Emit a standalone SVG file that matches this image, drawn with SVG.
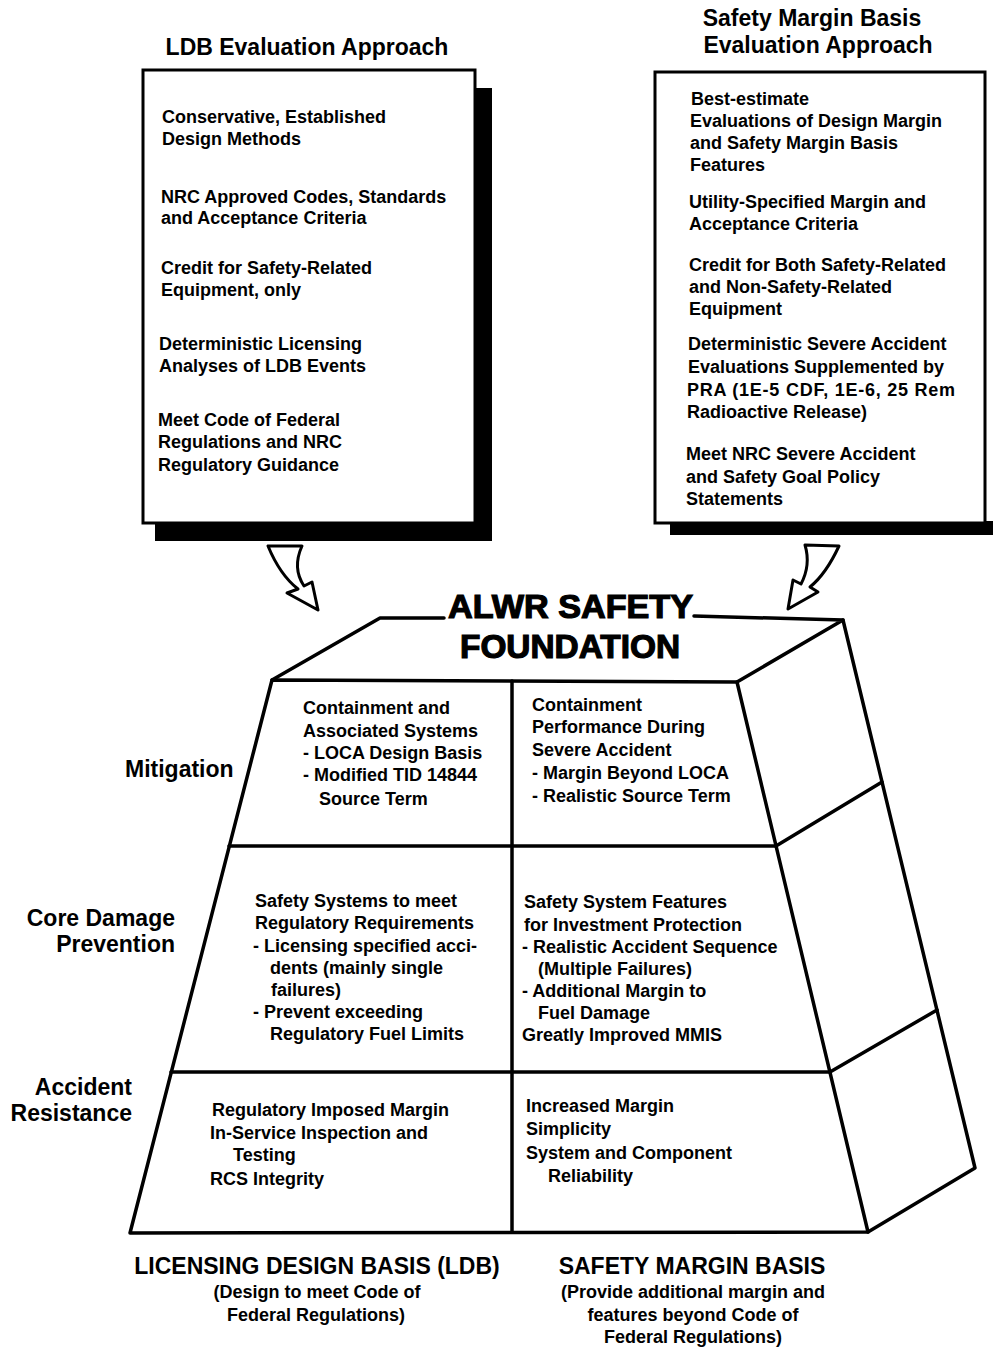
<svg xmlns="http://www.w3.org/2000/svg" width="993" height="1348" viewBox="0 0 993 1348">
  <style>
    text { font-family: "Liberation Sans", Arial, sans-serif; font-weight: bold; fill: #000; }
    .t { font-size: 18px; }
    .h { font-size: 23px; }
    .m { text-anchor: middle; }
    .e { text-anchor: end; }
    .big { font-size: 33px; stroke: #000; stroke-width: 1.2px; }
    .box { fill: #fff; stroke: #000; stroke-width: 3; }
    .shadow { fill: #000; }
    .edge { fill: none; stroke: #000; stroke-width: 3.5; stroke-linejoin: round; stroke-linecap: round; }
    .arrow { fill: #fff; stroke: #000; stroke-width: 3; stroke-linejoin: round; }
  </style>

  <!-- Left panel: LDB evaluation approach -->
  <g id="ldb-approach">
    <text class="h m" x="307" y="55">LDB Evaluation Approach</text>
    <rect class="shadow" x="474" y="88" width="18" height="453"/>
    <rect class="shadow" x="155" y="521" width="337" height="20"/>
    <rect class="box" x="143" y="70" width="332" height="453"/>
    <text class="t" x="162" y="123">Conservative, Established</text>
    <text class="t" x="162" y="145">Design Methods</text>
    <text class="t" x="161" y="203">NRC Approved Codes, Standards</text>
    <text class="t" x="161" y="224">and Acceptance Criteria</text>
    <text class="t" x="161" y="274">Credit for Safety-Related</text>
    <text class="t" x="161" y="296">Equipment, only</text>
    <text class="t" x="159" y="350">Deterministic Licensing</text>
    <text class="t" x="159" y="372">Analyses of LDB Events</text>
    <text class="t" x="158" y="426">Meet Code of Federal</text>
    <text class="t" x="158" y="448">Regulations and NRC</text>
    <text class="t" x="158" y="471">Regulatory Guidance</text>
  </g>

  <!-- Right panel: safety margin basis evaluation approach -->
  <g id="smb-approach">
    <text class="h m" x="812" y="26">Safety Margin Basis</text>
    <text class="h m" x="818" y="53">Evaluation Approach</text>
    <rect class="shadow" x="670" y="521" width="323" height="14"/>
    <rect class="box" x="655" y="72" width="330" height="451"/>
    <text class="t" x="691" y="105">Best-estimate</text>
    <text class="t" x="690" y="127">Evaluations of Design Margin</text>
    <text class="t" x="690" y="149">and Safety Margin Basis</text>
    <text class="t" x="690" y="171">Features</text>
    <text class="t" x="689" y="208">Utility-Specified Margin and</text>
    <text class="t" x="689" y="230">Acceptance Criteria</text>
    <text class="t" x="689" y="271">Credit for Both Safety-Related</text>
    <text class="t" x="689" y="293">and Non-Safety-Related</text>
    <text class="t" x="689" y="315">Equipment</text>
    <text class="t" x="688" y="350">Deterministic Severe Accident</text>
    <text class="t" x="688" y="373">Evaluations Supplemented by</text>
    <text class="t" x="687" y="396" textLength="268">PRA (1E-5 CDF, 1E-6, 25 Rem</text>
    <text class="t" x="687" y="418">Radioactive Release)</text>
    <text class="t" x="686" y="460">Meet NRC Severe Accident</text>
    <text class="t" x="686" y="483">and Safety Goal Policy</text>
    <text class="t" x="686" y="505">Statements</text>
  </g>

  <!-- Hollow curved arrows feeding the foundation -->
  <g id="connectors">
    <path class="arrow" d="M268,546 L302,546 Q292,568 304,586 L312,582 L318,610 L287,593 L298,589 Q280,575 268,546 Z"/>
    <path class="arrow" d="M805,545 L839,546 Q826,574 810,587 L818,592 L788,609 L793,580 L801,584 Q811,565 805,545 Z"/>
  </g>

  <!-- Foundation block: top face, front face, side face -->
  <g id="foundation-block">
    <!-- top face -->
    <path class="edge" d="M272,680 L380,618 L444,618"/>
    <path class="edge" d="M694,616 L843,620 L737,682"/>
    <!-- front face outline -->
    <path class="edge" d="M272,680 L737,682 L868,1232 L130,1233 Z"/>
    <!-- side face -->
    <path class="edge" d="M843,620 L975,1168 L868,1232"/>
    <path class="edge" d="M776,846 L882,782"/>
    <path class="edge" d="M830,1072 L937,1010"/>
    <!-- front face grid -->
    <path class="edge" d="M229,846 L776,846"/>
    <path class="edge" d="M171,1072 L830,1072"/>
    <path class="edge" d="M512,681 L512,1232"/>
    <text class="big" x="448" y="618" textLength="245" lengthAdjust="spacingAndGlyphs">ALWR SAFETY</text>
    <text class="big" x="460" y="658" textLength="220" lengthAdjust="spacingAndGlyphs">FOUNDATION</text>
  </g>

  <!-- Row labels -->
  <g id="row-labels">
    <text class="h" x="125" y="777">Mitigation</text>
    <text class="h e" x="175" y="926">Core Damage</text>
    <text class="h e" x="175" y="952">Prevention</text>
    <text class="h e" x="132" y="1095">Accident</text>
    <text class="h e" x="132" y="1121">Resistance</text>
  </g>

  <!-- Mitigation row -->
  <g id="mitigation-ldb">
    <text class="t" x="303" y="714">Containment and</text>
    <text class="t" x="303" y="737">Associated Systems</text>
    <text class="t" x="303" y="759">- LOCA Design Basis</text>
    <text class="t" x="303" y="781">- Modified TID 14844</text>
    <text class="t" x="319" y="805">Source Term</text>
  </g>
  <g id="mitigation-smb">
    <text class="t" x="532" y="711">Containment</text>
    <text class="t" x="532" y="733">Performance During</text>
    <text class="t" x="532" y="756">Severe Accident</text>
    <text class="t" x="532" y="779">- Margin Beyond LOCA</text>
    <text class="t" x="532" y="802">- Realistic Source Term</text>
  </g>

  <!-- Core damage prevention row -->
  <g id="prevention-ldb">
    <text class="t" x="255" y="907">Safety Systems to meet</text>
    <text class="t" x="255" y="929">Regulatory Requirements</text>
    <text class="t" x="253" y="952">- Licensing specified acci-</text>
    <text class="t" x="270" y="974">dents (mainly single</text>
    <text class="t" x="271" y="996">failures)</text>
    <text class="t" x="253" y="1018">- Prevent exceeding</text>
    <text class="t" x="270" y="1040">Regulatory Fuel Limits</text>
  </g>
  <g id="prevention-smb">
    <text class="t" x="524" y="908">Safety System Features</text>
    <text class="t" x="524" y="931">for Investment Protection</text>
    <text class="t" x="522" y="953">- Realistic Accident Sequence</text>
    <text class="t" x="538" y="975">(Multiple Failures)</text>
    <text class="t" x="522" y="997">- Additional Margin to</text>
    <text class="t" x="538" y="1019">Fuel Damage</text>
    <text class="t" x="522" y="1041">Greatly Improved MMIS</text>
  </g>

  <!-- Accident resistance row -->
  <g id="resistance-ldb">
    <text class="t" x="212" y="1116">Regulatory Imposed Margin</text>
    <text class="t" x="210" y="1139">In-Service Inspection and</text>
    <text class="t" x="233" y="1161">Testing</text>
    <text class="t" x="210" y="1185">RCS Integrity</text>
  </g>
  <g id="resistance-smb">
    <text class="t" x="526" y="1112">Increased Margin</text>
    <text class="t" x="526" y="1135">Simplicity</text>
    <text class="t" x="526" y="1159">System and Component</text>
    <text class="t" x="548" y="1182">Reliability</text>
  </g>

  <!-- Column captions -->
  <g id="caption-ldb">
    <text class="h m" x="317" y="1274">LICENSING DESIGN BASIS (LDB)</text>
    <text class="t m" x="317" y="1298">(Design to meet Code of</text>
    <text class="t m" x="316" y="1321">Federal Regulations)</text>
  </g>
  <g id="caption-smb">
    <text class="h m" x="692" y="1274">SAFETY MARGIN BASIS</text>
    <text class="t m" x="693" y="1298">(Provide additional margin and</text>
    <text class="t m" x="693" y="1321">features beyond Code of</text>
    <text class="t m" x="693" y="1343">Federal Regulations)</text>
  </g>
</svg>
